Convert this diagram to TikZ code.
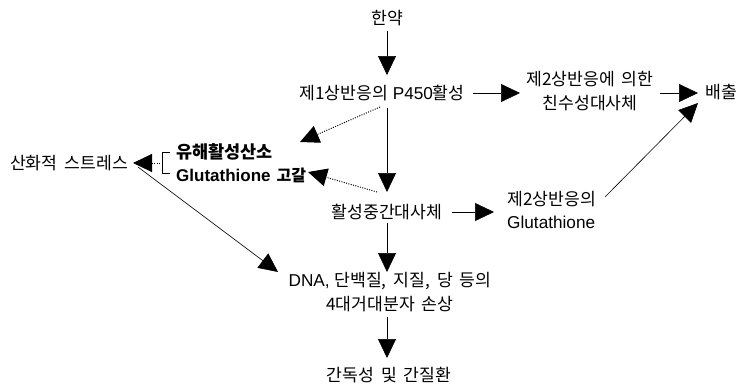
\documentclass[tikz,border=0pt]{standalone}
\usepackage{fontspec}
\setmainfont{Liberation Sans}
\newfontfamily\kr[WordSpace=1.8]{Noto Sans CJK KR}
\newcommand{\K}[1]{{\kr #1}}
\usetikzlibrary{arrows.meta}
\begin{document}
\begin{tikzpicture}[x=1pt,y=-1pt,
  txt/.style={inner sep=0pt, font=\fontsize{17.2}{23.5}\selectfont, align=center},
  btxt/.style={inner sep=0pt, font=\fontsize{17.5}{20}\selectfont\bfseries, anchor=west},
  arr/.style={-{Triangle[length=19pt,width=18pt]}, line width=0.6pt},
  dotarr/.style={-{Triangle[length=19pt,width=18pt]}, line width=1pt, dash pattern=on 1pt off 1.4pt},
  plain/.style={line width=0.6pt}]
\useasboundingbox (0,0) rectangle (742,388);
% nodes
\node[txt] (yak) at (387,18) {\K{한약}};
\node[txt] (p450) at (382,93) {\K{제1상반응의} P450\K{활성}};
\node[txt] (phase2) at (590,91) {\K{제2상반응에 의한}\\\K{친수성대사체}};
\node[txt] (out) at (721,92) {\K{배출}};
\node[txt] (inter) at (387,212) {\K{활성중간대사체}};
\node[txt, anchor=west, align=left] (glut) at (507,210) {\K{제2상반응의}\\Glutathione};
\node[btxt] (ros) at (176,152) {\K{유해활성산소}};
\node[btxt] (gdep) at (176,175) {{\fontsize{17}{20}\selectfont Glutathione}\hspace{6pt}{\fontsize{16}{20}\selectfont\K{고갈}}};
\node[txt] (ox) at (69,163) {\K{산화적 스트레스}};
\node[txt] (dna) at (390,292) {DNA,\ \K{단백질, 지질, 당 등의}\\\K{4대거대분자 손상}};
\node[txt] (liver) at (389,375) {\K{간독성 및 간질환}};
% connectors
\draw[arr] (yak.south -| 387,0) ++(0,5) -- (387,75);
\draw[arr] (473,93) -- (520,93);
\draw[arr] (660,93) -- (698,93);
\draw[arr] (387,108) -- (387,192);
\draw[dotarr] (380,107) -- (300,142);
\draw[dotarr] (377,192) -- (308,172);
\draw[arr] (452,212) -- (494,212);
\draw[arr] (605,197) -- (698,103);
\draw[arr] (387,223) -- (387,272);
\draw[arr] (138,167) -- (278,272);
\draw[arr] (387,317) -- (387,358);
\draw[plain] (170,152) -- (162,152) -- (162,173) -- (170,173);
\draw[dotarr] (160,163) -- (133,163);
\end{tikzpicture}
\end{document}
